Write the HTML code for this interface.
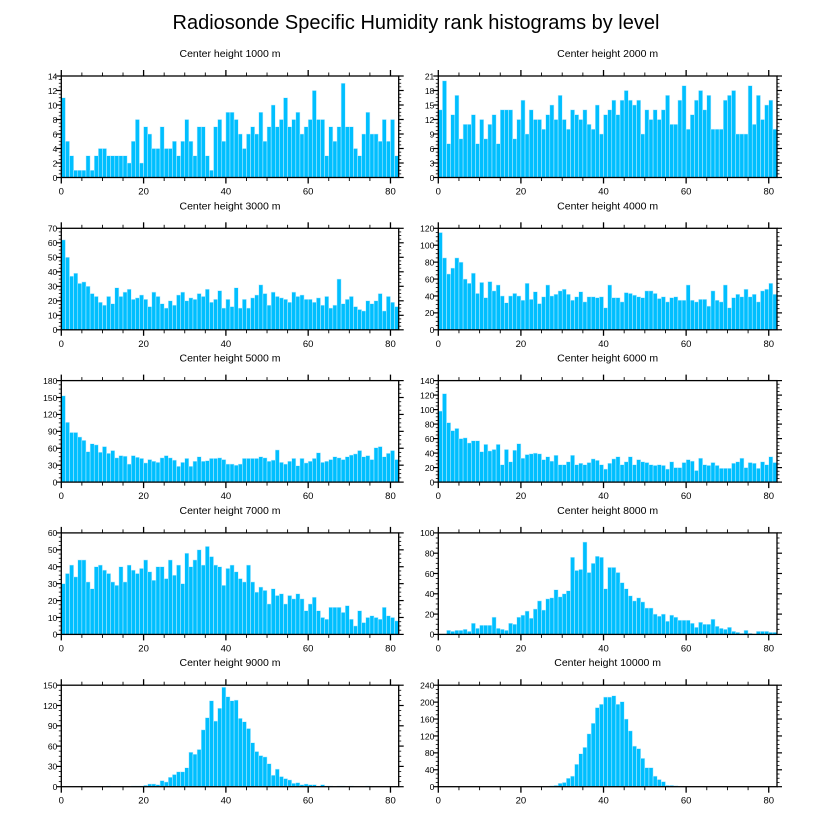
<!DOCTYPE html>
<html><head><meta charset="utf-8"><style>
html,body{margin:0;padding:0;background:#fff;}
svg{display:block;font-family:"Liberation Sans",sans-serif;}
</style></head><body>
<svg id="chart" width="816" height="824" viewBox="0 0 816 824" xmlns="http://www.w3.org/2000/svg">
<text x="416" y="29" text-anchor="middle" font-size="20">Radiosonde Specific Humidity rank histograms by level</text>
</svg>
<script>
const titles = ["Center height 1000 m","Center height 2000 m","Center height 3000 m","Center height 4000 m","Center height 5000 m","Center height 6000 m","Center height 7000 m","Center height 8000 m","Center height 9000 m","Center height 10000 m"];
const yMaxes = [14,21,70,120,180,140,60,100,150,240];
const ySteps = [2,3,10,20,30,20,10,20,30,40];
const xTicks = [0,20,40,60,80];
const h1000 = [11,5,3,1,1,1,3,1,3,4,4,3,3,3,3,3,2,5,8,2,7,6,4,4,7,4,4,5,3,5,8,5,3,7,7,3,1,7,8,5,9,9,8,6,4,6,7,6,9,5,7,10,7,8,11,7,8,9,6,7,8,12,8,8,3,7,5,7,13,7,7,4,3,6,9,6,6,5,8,5,8,3];
const h2000 = [14,20,7,13,17,8,11,11,13,7,12,8,11,13,7,14,14,14,8,12,16,9,14,12,12,10,13,15,12,17,12,10,14,13,12,14,11,10,15,9,13,14,16,13,16,18,16,15,16,9,14,12,14,12,14,17,11,11,16,19,10,13,16,18,14,17,10,10,10,16,17,18,9,9,9,19,11,17,12,15,16,10];
const h3000 = [62,50,37,39,32,33,30,25,23,19,17,23,18,29,23,26,28,21,22,24,21,16,26,23,18,15,20,17,24,26,20,22,21,25,23,28,19,21,27,15,21,16,29,15,21,15,22,24,31,25,17,26,23,22,21,19,26,23,24,21,21,19,22,17,23,15,17,35,18,21,23,16,14,13,20,18,20,25,13,23,19,16];
const h4000 = [115,85,66,73,85,80,60,55,67,43,56,38,57,46,53,40,32,40,43,40,35,55,36,45,31,39,53,40,42,46,48,42,35,39,45,33,39,39,38,39,26,53,38,38,33,44,43,41,39,38,46,46,43,37,39,33,38,39,35,35,53,35,33,36,36,28,46,35,33,53,26,38,42,39,48,39,42,33,46,48,55,42];
const h5000 = [153,106,88,88,80,74,54,68,66,53,63,51,56,43,47,46,32,47,44,42,34,40,37,35,43,47,43,39,28,35,42,28,37,45,37,38,42,42,43,40,32,32,30,32,42,42,42,42,45,43,37,39,57,35,32,37,42,29,42,34,37,42,52,35,37,40,45,43,40,45,48,50,56,45,47,40,61,63,45,51,56,40];
const h6000 = [98,122,82,71,74,60,61,54,57,57,42,52,43,45,52,24,45,28,44,53,33,38,39,40,39,31,35,29,37,24,24,28,37,24,26,24,27,32,30,24,18,26,32,35,24,28,35,24,31,28,27,24,23,24,23,18,28,20,20,27,31,29,16,33,24,23,27,23,19,19,19,26,28,33,20,27,26,19,28,24,35,27];
const h7000 = [30,36,41,34,44,44,31,27,40,41,38,36,31,29,40,31,41,38,36,39,44,37,32,40,40,33,44,35,41,30,48,40,44,50,41,52,46,41,40,29,39,41,37,33,31,41,31,25,28,26,18,27,23,24,18,23,21,24,21,14,18,22,14,10,9,16,16,16,13,17,9,5,14,7,10,11,10,9,16,11,10,8];
const h8000 = [0,0,4,3,4,4,5,3,11,6,9,9,9,17,6,5,4,11,10,17,19,23,16,25,33,24,35,36,44,37,40,43,76,63,64,91,61,70,77,76,45,66,66,61,51,45,38,33,36,32,26,26,20,18,20,13,19,17,14,14,14,11,7,12,10,10,15,8,6,5,7,3,2,1,4,1,0,3,3,3,2,2];
const h9000 = [0,0,0,0,0,0,0,0,0,0,0,1,0,0,0,0,0,1,1,1,2,4,4,3,9,7,14,18,22,22,28,51,48,55,84,102,127,97,116,147,133,127,128,101,96,86,65,52,46,44,34,17,26,15,12,10,5,6,3,4,3,3,1,3,1,1,0,1,1,0,1,0,0,0,1,0,0,0,0,0,0,0];
const h10000 = [0,0,0,0,0,0,0,0,0,0,0,0,0,0,0,0,0,0,0,0,0,0,0,0,0,0,1,2,3,8,10,20,25,53,78,93,125,150,187,195,212,212,215,195,201,160,132,96,90,67,45,45,25,17,12,3,3,2,1,0,0,0,0,0,0,0,0,0,0,0,0,0,0,0,0,0,0,0,0,0,0,0];
const series = [h1000,h2000,h3000,h4000,h5000,h6000,h7000,h8000,h9000,h10000];

const NS = "http://www.w3.org/2000/svg";
const svg = document.getElementById('chart');
function mk(tag, attrs, parent){
  const e = document.createElementNS(NS, tag);
  for (const k in attrs) e.setAttribute(k, attrs[k]);
  parent.appendChild(e); return e;
}
const XMAX = 82;
for (let p = 0; p < 10; p++) {
  const col = p % 2, row = Math.floor(p / 2);
  const x0 = col === 0 ? 61.3 : 438.3;
  const w = col === 0 ? 337.4 : 338.7;
  const y0 = 76 + row * 152.3;
  const h = 101.5;
  const yMax = yMaxes[p], yStep = ySteps[p];
  const xs = v => x0 + v / XMAX * w;
  const ys = v => y0 + h - v / yMax * h;
  const g = mk('g', {}, svg);
  
  
  const t = mk('text', {x: x0 + w/2, y: y0 - 19, 'text-anchor':'middle', 'font-size':'10.5'}, g);
  t.textContent = titles[p];
  
  
  // bars
  const data = series[p];
  for (let i = 0; i < data.length; i++) {
    const v = data[i];
    if (v <= 0) continue;
    const r = mk('rect', {x: xs(i), y: ys(v), width: xs(i+1)-xs(i), height: ys(0)-ys(v), fill:'#00bfff', stroke:'#c8eeff', 'stroke-width':'0.5'}, g);
    
    
  }
  // frame
  const f = mk('rect', {x: x0, y: y0, width: w, height: h, fill:'none', stroke:'#000', 'stroke-width':'1.3'}, g);
  
  
  // x ticks
  for (let v = 0; v <= 80; v += 5) {
    const major = v % 20 === 0;
    const L = major ? 6 : 3.5;
    mk('line', {x1: xs(v), x2: xs(v), y1: y0+h, y2: y0+h+L, stroke:'#000', 'stroke-width': major?1.3:0.9}, g);
    mk('line', {x1: xs(v), x2: xs(v), y1: y0, y2: y0-L, stroke:'#000', 'stroke-width': major?1.3:0.9}, g);
  }
  for (const v of xTicks) {
    const lt = mk('text', {x: xs(v), y: y0+h+17, 'text-anchor':'middle', 'font-size':'9.5'}, g);
    lt.textContent = v;
    
    
  }
  // y ticks
  const minor = yStep / 4;
  for (let k = 0; k * minor <= yMax + 1e-9; k++) {
    const v = k * minor;
    const major = k % 4 === 0;
    const L = major ? 5 : 2.5;
    mk('line', {x1: x0, x2: x0-L, y1: ys(v), y2: ys(v), stroke:'#000', 'stroke-width': major?1.2:0.8}, g);
    mk('line', {x1: x0+w, x2: x0+w+L, y1: ys(v), y2: ys(v), stroke:'#000', 'stroke-width': major?1.2:0.8}, g);
  }
  for (let v = 0; v <= yMax + 1e-9; v += yStep) {
    const lt = mk('text', {x: x0 - 4, y: ys(v) + 3.3, 'text-anchor':'end', 'font-size':'8.5'}, g);
    lt.textContent = v;
    
    
  }
}
</script>
</body></html>
